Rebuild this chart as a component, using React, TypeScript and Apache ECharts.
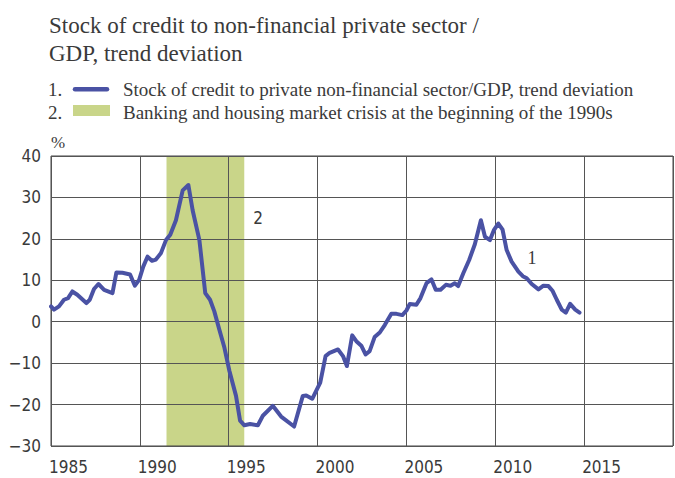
import React, { useEffect, useRef } from "react";
import * as echarts from "echarts";

const years = [
  1985.0, 1985.17, 1985.45, 1985.73, 1985.96, 1986.2, 1986.48, 1986.99, 1987.18, 1987.42,
  1987.67, 1987.99, 1988.46, 1988.68, 1989.02, 1989.45, 1989.72, 1989.96, 1990.19, 1990.43,
  1990.68, 1990.9, 1991.18, 1991.47, 1991.71, 1992.03, 1992.41, 1992.73, 1992.97, 1993.35,
  1993.68, 1993.95, 1994.19, 1994.47, 1994.76, 1995.04, 1995.41, 1995.64, 1995.88, 1996.2,
  1996.64, 1996.92, 1997.48, 1997.95, 1998.68, 1999.17, 1999.36, 1999.7, 2000.15, 2000.45,
  2000.68, 2001.15, 2001.43, 2001.65, 2001.95, 2002.18, 2002.46, 2002.7, 2002.93, 2003.21,
  2003.5, 2003.78, 2004.15, 2004.44, 2004.77, 2005.0, 2005.19, 2005.56, 2005.79, 2006.13,
  2006.41, 2006.65, 2006.92, 2007.22, 2007.48, 2007.72, 2007.91, 2008.2, 2008.53, 2008.85,
  2009.19, 2009.42, 2009.7, 2009.92, 2010.17, 2010.41, 2010.64, 2010.92, 2011.3, 2011.55,
  2011.77, 2012.05, 2012.43, 2012.71, 2012.99, 2013.23, 2013.46, 2013.74, 2013.97, 2014.21,
  2014.5, 2014.74,
];

const creditGap = [
  3.7, 2.9, 3.7, 5.3, 5.7, 7.3, 6.5, 4.5, 5.3, 7.9,
  9.1, 7.7, 6.9, 11.9, 11.8, 11.4, 8.7, 10.1, 13.3, 15.7,
  14.7, 15.0, 16.5, 19.7, 21.0, 24.5, 31.7, 33.0, 26.9, 19.7,
  6.9, 5.3, 2.5, -1.9, -6.3, -11.9, -17.9, -23.9, -25.0, -24.7,
  -25.0, -22.7, -20.3, -22.9, -25.3, -17.9, -17.8, -18.6, -14.7, -8.3,
  -7.5, -6.7, -8.3, -10.7, -3.3, -4.7, -5.8, -7.9, -7.1, -3.7,
  -2.6, -0.8, 1.9, 1.9, 1.6, 2.7, 4.3, 4.1, 5.7, 9.3,
  10.2, 7.7, 7.7, 8.9, 8.7, 9.3, 8.6, 11.7, 14.9, 18.7,
  24.5, 20.5, 19.7, 22.1, 23.7, 22.2, 17.3, 14.5, 12.1, 11.0,
  10.5, 9.1, 7.8, 8.7, 8.6, 7.4, 5.3, 2.9, 2.2, 4.3,
  2.9, 2.2,
];

const crisisPeriod = [1991.5, 1995.875];

const xRange = [1985, 2020];
const yRange = [-30, 40];

const titleLines = ["Stock of credit to non-financial private sector /", "GDP, trend deviation"];
const legendItems = [
  "Stock of credit to private non-financial sector/GDP, trend deviation",
  "Banking and housing market crisis at the beginning of the 1990s",
];

const LINE_COLOR = "#4a52a4";
const BAND_COLOR = "#c9d589";
const TEXT_COLOR = "#3a3a3a";
const SERIF = "'Liberation Serif', 'Times New Roman', serif";
const SANS = "'DejaVu Sans Condensed', 'DejaVu Sans', sans-serif";

export default function App() {
  const ref = useRef<HTMLDivElement>(null);

  useEffect(() => {
    document.body.style.margin = "0";
    if (!ref.current) return;
    const chart = echarts.init(ref.current, undefined, { renderer: "svg" });
    const data = years.map((y, i) => [y, creditGap[i]]);

    chart.setOption({
      animation: false,
      backgroundColor: "#ffffff",
      grid: {
        left: 51,
        top: 156,
        right: 2,
        bottom: 32,
        show: true,
        borderColor: "#444",
        borderWidth: 1,
        backgroundColor: "transparent",
        containLabel: false,
      },
      xAxis: {
        type: "value",
        min: xRange[0],
        max: xRange[1],
        interval: 5,
        axisLine: { show: false },
        axisTick: { show: false },
        splitLine: { show: true, lineStyle: { color: "#555", width: 1 } },
        axisLabel: {
          showMaxLabel: false,
          align: "left",
          margin: 12,
          color: TEXT_COLOR,
          fontSize: 17,
          fontFamily: SANS,
          padding: [0, 0, 0, -2],
          formatter: (v: number) => String(v),
        },
      },
      yAxis: {
        type: "value",
        min: yRange[0],
        max: yRange[1],
        interval: 10,
        axisLine: { show: false },
        axisTick: { show: false },
        splitLine: { show: true, lineStyle: { color: "#555", width: 1 } },
        axisLabel: {
          margin: 10,
          color: TEXT_COLOR,
          fontSize: 17,
          fontFamily: SANS,
          formatter: (v: number) => String(v).replace("-", "\u2212"),
        },
      },
      series: [
        {
          type: "line",
          z: -1,
          silent: true,
          symbol: "none",
          data: [[crisisPeriod[0], 0], [crisisPeriod[1], 0]],
          lineStyle: { opacity: 0, width: 0 },
          markArea: {
            z: -1,
            silent: true,
            itemStyle: { color: BAND_COLOR, opacity: 1 },
            data: [[{ xAxis: crisisPeriod[0] }, { xAxis: crisisPeriod[1] }]],
          },
        },
        {
          type: "line",
          z: 5,
          data,
          showSymbol: false,
          symbol: "none",
          lineStyle: { color: LINE_COLOR, width: 4, cap: "round", join: "round" },
        },
      ],
      graphic: [
        {
          type: "text",
          x: 49,
          y: 25.5,
          style: { text: titleLines[0], font: `23px ${SERIF}`, fill: TEXT_COLOR, verticalAlign: "middle" },
        },
        {
          type: "text",
          x: 49,
          y: 53.5,
          style: { text: titleLines[1], font: `23px ${SERIF}`, fill: TEXT_COLOR, verticalAlign: "middle" },
        },
        {
          type: "text",
          x: 48,
          y: 89,
          style: { text: "1.", font: `19px ${SERIF}`, fill: TEXT_COLOR, verticalAlign: "middle" },
        },
        {
          type: "line",
          shape: { x1: 75, y1: 89.3, x2: 107, y2: 89.3 },
          style: { stroke: LINE_COLOR, lineWidth: 4.5, lineCap: "round" },
        },
        {
          type: "text",
          x: 123,
          y: 89,
          style: { text: legendItems[0], font: `19px ${SERIF}`, fill: TEXT_COLOR, verticalAlign: "middle" },
        },
        {
          type: "text",
          x: 48,
          y: 112,
          style: { text: "2.", font: `19px ${SERIF}`, fill: TEXT_COLOR, verticalAlign: "middle" },
        },
        {
          type: "rect",
          shape: { x: 73, y: 105, width: 37, height: 11 },
          style: { fill: BAND_COLOR },
        },
        {
          type: "text",
          x: 123,
          y: 112,
          style: { text: legendItems[1], font: `19px ${SERIF}`, fill: TEXT_COLOR, verticalAlign: "middle" },
        },
        {
          type: "text",
          x: 51,
          y: 142,
          style: { text: "%", font: `17px ${SERIF}`, fill: TEXT_COLOR, verticalAlign: "middle" },
        },
        {
          type: "text",
          x: 258,
          y: 218,
          style: { text: "2", font: `17px ${SANS}`, fill: TEXT_COLOR, align: "center", verticalAlign: "middle" },
        },
        {
          type: "text",
          x: 532,
          y: 258,
          style: { text: "1", font: `18px ${SERIF}`, fill: TEXT_COLOR, align: "center", verticalAlign: "middle" },
        },
      ],
    });

    return () => chart.dispose();
  }, []);

  return <div ref={ref} style={{ width: 675, height: 478 }} />;
}
